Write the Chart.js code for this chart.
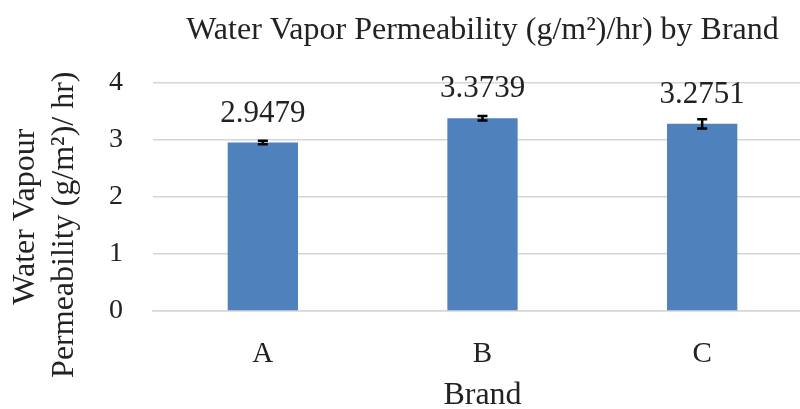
<!DOCTYPE html>
<html>
<head>
<meta charset="utf-8">
<script src="https://cdn.jsdelivr.net/npm/chart.js@4/dist/chart.umd.min.js"></script>
<style>
  html, body { margin: 0; padding: 0; background: #fff; overflow: hidden; }
  #wrap { width: 812px; height: 409px; }
</style>
</head>
<body>
<div id="wrap"><canvas id="myChart" width="812" height="409"></canvas></div>
<script>
const brands = ["A", "B", "C"];
const permeability = [2.9479, 3.3739, 3.2751];
const errors = [0.03, 0.04, 0.08];
const yTicks = [0, 1, 2, 3, 4];

const textColor = "#222";
const gridColor = "#d6d6d6";
const serif = "'Liberation Serif', 'Times New Roman', serif";

// value labels above each bar
const valueLabels = {
  id: "valueLabels",
  afterDatasetsDraw(chart) {
    const ctx = chart.ctx;
    const meta = chart.getDatasetMeta(0);
    ctx.save();
    ctx.font = "31px " + serif;
    ctx.fillStyle = textColor;
    ctx.textAlign = "center";
    ctx.textBaseline = "middle";
    meta.data.forEach((bar, i) => {
      ctx.fillText(permeability[i].toFixed(4), bar.x, bar.y - 29);
    });
    ctx.restore();
  }
};

// error bars drawn through the y scale
const errorBars = {
  id: "errorBars",
  afterDatasetsDraw(chart) {
    const ctx = chart.ctx;
    const y = chart.scales.y;
    const meta = chart.getDatasetMeta(0);
    ctx.save();
    ctx.strokeStyle = "#000";
    ctx.lineWidth = 2.5;
    meta.data.forEach((bar, i) => {
      const top = y.getPixelForValue(permeability[i] + errors[i]);
      const bottom = y.getPixelForValue(permeability[i] - errors[i]);
      ctx.beginPath();
      ctx.moveTo(bar.x, top);
      ctx.lineTo(bar.x, bottom);
      ctx.moveTo(bar.x - 5, top);
      ctx.lineTo(bar.x + 5, top);
      ctx.moveTo(bar.x - 5, bottom);
      ctx.lineTo(bar.x + 5, bottom);
      ctx.stroke();
    });
    ctx.restore();
  }
};

new Chart(document.getElementById("myChart"), {
  type: "bar",
  data: {
    labels: brands,
    datasets: [{
      data: permeability,
      backgroundColor: "#4F81BD",
      borderWidth: 0,
      categoryPercentage: 1,
      barPercentage: 0.32
    }]
  },
  options: {
    responsive: false,
    animation: false,
    layout: { padding: 0, autoPadding: false },
    plugins: {
      legend: { display: false },
      tooltip: { enabled: false },
      title: {
        display: true,
        fullSize: false,
        text: "Water Vapor Permeability (g/m²)/hr) by Brand",
        color: textColor,
        font: { family: serif, size: 32, weight: "normal", lineHeight: 1.2 },
        padding: { top: 11, bottom: 33 }
      }
    },
    scales: {
      x: {
        afterFit: (scale) => { scale.height = 98; },
        grid: { display: false, drawTicks: false },
        border: { display: true, color: gridColor, width: 1.5 },
        ticks: {
          color: textColor,
          padding: 26,
          font: { family: serif, size: 29 }
        },
        title: {
          display: true,
          text: "Brand",
          color: textColor,
          font: { family: serif, size: 32, lineHeight: 0.85 },
          padding: 0
        }
      },
      y: {
        min: 0,
        max: 4,
        afterFit: (scale) => { scale.width = 153; },
        afterBuildTicks: (scale) => { scale.ticks = yTicks.map(v => ({ value: v })); },
        grid: { color: gridColor, lineWidth: 1.5, drawTicks: false },
        border: { display: false },
        ticks: {
          color: textColor,
          padding: 30,
          font: { family: serif, size: 28 }
        },
        title: {
          display: true,
          // trailing spaces nudge the label down like the original
          text: ["Water Vapour     ", "Permeability (g/m²)/ hr)       "],
          color: textColor,
          font: { family: serif, size: 32, lineHeight: 1.19 },
          padding: { top: 7, bottom: 0 }
        }
      }
    }
  },
  plugins: [valueLabels, errorBars]
});
</script>
</body>
</html>
